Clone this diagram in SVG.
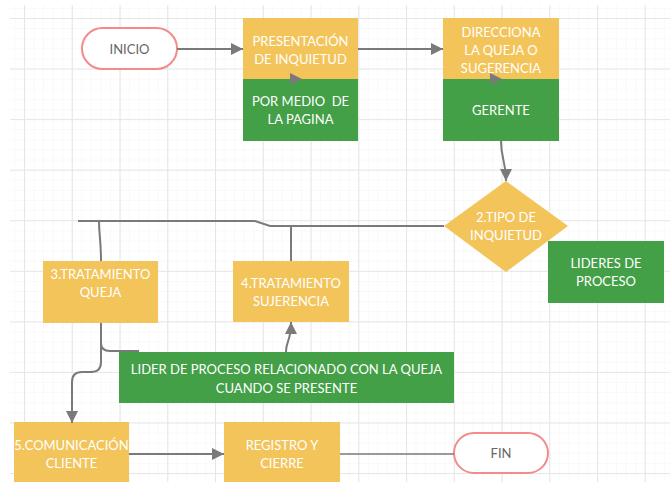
<svg xmlns="http://www.w3.org/2000/svg" width="670" height="482" viewBox="0 0 670 482">
  <defs>
    <pattern id="minor" x="24" y="18" width="9.55" height="10.112" patternUnits="userSpaceOnUse">
      <path d="M0,0 V10.112 M0,0 H9.55" fill="none" stroke="#f4f4f4" stroke-width="1"/>
    </pattern>
    <pattern id="major" x="24" y="18" width="47.75" height="50.56" patternUnits="userSpaceOnUse">
      <path d="M0.5,0 V50.56 M0,0.5 H47.75" fill="none" stroke="#e6e6e6" stroke-width="1.2"/>
    </pattern>
    <marker id="arr" viewBox="0 0 12 12" refX="12" refY="6" markerWidth="12" markerHeight="12" orient="auto" markerUnits="userSpaceOnUse">
      <path d="M0,0 L12,6 L0,12 z" fill="#7a7a7a"/>
    </marker>
    <style>
      .y { fill: #f3c45a; }
      .g { fill: #43a047; }
      .pill { fill: #ffffff; stroke: #f28b8b; stroke-width: 2; }
      .t { font-family: Lato, "Liberation Sans", sans-serif; font-size: 13px; fill: #ffffff; text-anchor: middle; }
      .tp { font-family: Lato, "Liberation Sans", sans-serif; font-size: 13px; fill: #666666; text-anchor: middle; }
      .c { fill: none; stroke: #7a7a7a; stroke-width: 2; }
    </style>
  </defs>

  <rect width="670" height="482" fill="#ffffff"/>
  <rect x="10" y="5" width="660" height="477" fill="url(#minor)"/>
  <rect x="10" y="5" width="660" height="477" fill="url(#major)"/>

  <g id="inicio">
    <rect class="pill" x="82" y="28" width="95" height="41" rx="20.5"/>
    <text class="tp" x="129.5" y="53.5">INICIO</text>
  </g>

  <g id="presentacion">
    <rect class="y" x="243" y="18" width="115" height="61"/>
    <rect class="g" x="243" y="79" width="115" height="62"/>
    <text class="t" x="300.5" y="45.5">PRESENTACIÓN</text>
    <text class="t" x="300.5" y="63.5">DE INQUIETUD</text>
    <text class="t" x="300.5" y="105.5" xml:space="preserve">POR MEDIO  DE</text>
    <text class="t" x="300.5" y="123.5">LA PAGINA</text>
  </g>

  <g id="direcciona">
    <rect class="y" x="443" y="18" width="116" height="61"/>
    <rect class="g" x="443" y="79" width="116" height="62"/>
    <text class="t" x="501" y="36.5">DIRECCIONA</text>
    <text class="t" x="501" y="54.5">LA QUEJA O</text>
    <text class="t" x="501" y="72.5">SUGERENCIA</text>
    <text class="t" x="501" y="114.5">GERENTE</text>
  </g>

  <g id="tipo">
    <polygon class="y" points="506,181 568,226 506,272 444,226"/>
    <text class="t" x="506" y="221.5">2.TIPO DE</text>
    <text class="t" x="506" y="239.5">INQUIETUD</text>
  </g>

  <g id="lideres">
    <rect class="g" x="548" y="241" width="116" height="62"/>
    <text class="t" x="606" y="267.5">LIDERES DE</text>
    <text class="t" x="606" y="285.5">PROCESO</text>
  </g>

  <g id="queja">
    <rect class="y" x="43" y="261" width="115" height="62"/>
    <text class="t" x="100.5" y="278.5">3.TRATAMIENTO</text>
    <text class="t" x="100.5" y="296.5">QUEJA</text>
  </g>

  <g id="sujerencia">
    <rect class="y" x="233" y="261" width="116" height="61"/>
    <text class="t" x="291" y="287.5">4.TRATAMIENTO</text>
    <text class="t" x="291" y="305.5">SUJERENCIA</text>
  </g>

  <g id="lider">
    <rect class="g" x="119" y="352" width="335" height="51"/>
    <text class="t" x="286.5" y="373.5">LIDER DE PROCESO RELACIONADO CON LA QUEJA</text>
    <text class="t" x="286.5" y="392.5">CUANDO SE PRESENTE</text>
  </g>

  <g id="comunicacion">
    <rect class="y" x="14" y="422" width="115" height="61"/>
    <text class="t" x="71.5" y="449.5">5.COMUNICACIÓN</text>
    <text class="t" x="71.5" y="467.5">CLIENTE</text>
  </g>

  <g id="registro">
    <rect class="y" x="224" y="422" width="116" height="61"/>
    <text class="t" x="282" y="449.5">REGISTRO Y</text>
    <text class="t" x="282" y="467.5">CIERRE</text>
  </g>

  <g id="fin">
    <rect class="pill" x="454" y="433" width="94" height="40" rx="20"/>
    <text class="tp" x="501" y="457.5">FIN</text>
  </g>

  <g id="connectors">
    <path class="c" d="M177,49 H243" marker-end="url(#arr)"/>
    <path class="c" d="M358,49 H443" marker-end="url(#arr)"/>
    <path d="M290,79 H302" fill="none" stroke="none" marker-end="url(#arr)"/>
    <path d="M490,79 H502" fill="none" stroke="none" marker-end="url(#arr)"/>
    <path class="c" d="M501,141 C501,160 506,160 506,181" marker-end="url(#arr)"/>
    <path class="c" d="M444,226 H270 L255,221 H78"/>
    <path class="c" d="M291,226 V261"/>
    <path class="c" d="M99,221 C99,235 101,240 101,261"/>
    <path class="c" d="M101,323 V343 Q101,351 110,351 H139"/>
    <path class="c" d="M101,343 V362 Q101,372 91,372 H82 Q72,372 72,382 V423" marker-end="url(#arr)"/>
    <path class="c" d="M286,352 C286,340 291,342 291,322" marker-end="url(#arr)"/>
    <path class="c" d="M129,454 H224" marker-end="url(#arr)"/>
    <path class="c" d="M340,454 H454" style="stroke-width:1.6"/>
  </g>
</svg>
